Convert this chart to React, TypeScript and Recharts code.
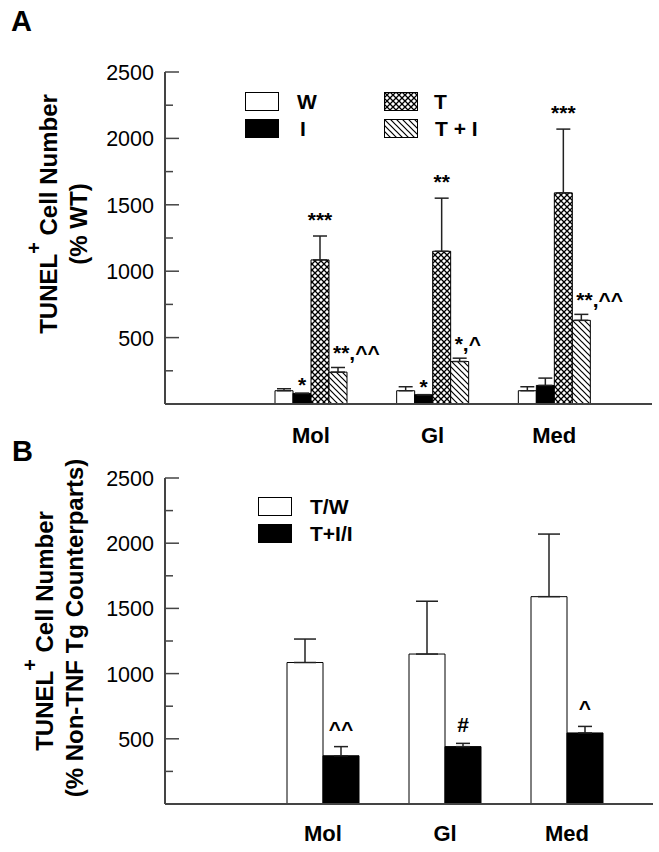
import { Bar, BarChart, ErrorBar, LabelList, XAxis, YAxis } from "recharts";

const regions = ["Mol", "Gl", "Med"];

// panel A, % WT
const wMean = [100, 100, 100];
const wErr = [15, 30, 30];
const iMean = [80, 70, 140];
const iErr = [0, 0, 55];
const tMean = [1085, 1150, 1590];
const tErr = [180, 400, 480];
const tiMean = [240, 320, 630];
const tiErr = [35, 25, 45];
const iMarks = ["*", "*", ""];
const tMarks = ["***", "**", "***"];
const tiMarks = ["**,^^", "*,^", "**,^^"];

// panel B, % non-TNF Tg counterparts
const twMean = [1085, 1150, 1590];
const twErr = [180, 405, 480];
const tiiMean = [370, 440, 545];
const tiiErr = [70, 25, 50];
const tiiMarks = ["^^", "#", "^"];

const yTicks = [0, 250, 500, 750, 1000, 1250, 1500, 1750, 2000, 2250, 2500];

const dataA = regions.map((r, i) => ({
  region: r,
  W: wMean[i],
  Werr: [0, wErr[i]],
  I: iMean[i],
  Ierr: [0, iErr[i]],
  T: tMean[i],
  Terr: [0, tErr[i]],
  TI: tiMean[i],
  TIerr: [0, tiErr[i]],
}));

const dataB = regions.map((r, i) => ({
  region: r,
  TW: twMean[i],
  TWerr: [0, twErr[i]],
  TII: tiiMean[i],
  TIIerr: [0, tiiErr[i]],
}));

const FONT = "'Liberation Sans', Arial, sans-serif";
const AXIS = "#444";

function YTick(props: any) {
  const { x, y, payload } = props;
  const v = payload.value;
  if (v === 0) return null;
  const major = v % 500 === 0;
  const ax = x + 11;
  return (
    <g>
      <line x1={ax} x2={ax + (major ? 14 : 8)} y1={y} y2={y} stroke={AXIS} strokeWidth={1.5} />
      {major && (
        <text x={x} y={y} dy={8} textAnchor="end" fontSize={21.5} fontFamily={FONT} fill="#000">
          {v}
        </text>
      )}
    </g>
  );
}

function markLabel(marks: string[], errs: number[], gap: number) {
  return (props: any) => {
    const { x, y, width, height, value, index } = props;
    const text = marks[index];
    if (!text) return null;
    const errPx = value ? (errs[index] * height) / value : 0;
    const split = text.includes(",");
    return (
      <text
        x={split ? x + 4 : x + width / 2}
        y={y - errPx - gap}
        textAnchor={split ? "start" : "middle"}
        fontSize={21}
        fontWeight="bold"
        fontFamily={FONT}
        fill="#000"
      >
        {text}
      </text>
    );
  };
}

function Swatch({ fill }: { fill: string }) {
  return (
    <svg width={35} height={20} style={{ display: "block" }}>
      <rect x={0.5} y={0.5} width={33} height={18} fill={fill} stroke="#000" strokeWidth={1} />
    </svg>
  );
}

const legendText: React.CSSProperties = {
  fontFamily: FONT,
  fontWeight: "bold",
  fontSize: 21,
  lineHeight: "20px",
};

function LegendA() {
  const items = [
    { fill: "#fff", name: "W", left: 245, top: 92, gap: 17 },
    { fill: "#000", name: "I", left: 245, top: 119, gap: 20 },
    { fill: "url(#cross)", name: "T", left: 384, top: 92, gap: 15 },
    { fill: "url(#hatch)", name: "T + I", left: 384, top: 119, gap: 16 },
  ];
  return (
    <div>
      {items.map((it) => (
        <div key={it.name} style={{ position: "absolute", left: it.left, top: it.top, display: "flex", alignItems: "center" }}>
          <Swatch fill={it.fill} />
          <span style={{ ...legendText, marginLeft: it.gap }}>{it.name}</span>
        </div>
      ))}
    </div>
  );
}

function LegendB() {
  const items = [
    { fill: "#fff", name: "T/W", top: 497 },
    { fill: "#000", name: "T+I/I", top: 524 },
  ];
  return (
    <div>
      {items.map((it) => (
        <div key={it.name} style={{ position: "absolute", left: 258, top: it.top, display: "flex", alignItems: "center" }}>
          <Swatch fill={it.fill} />
          <span style={{ ...legendText, marginLeft: 17 }}>{it.name}</span>
        </div>
      ))}
    </div>
  );
}

function YTitle({ cx, cy1, cy2, line2 }: { cx: number; cy1: number; cy2: number; line2: string }) {
  const b1 = cx;
  const b2 = cx + 30;
  return (
    <g fontFamily={FONT} fontWeight="bold" fontSize={24} fill="#000">
      <text x={b1} y={cy1} transform={`rotate(-90, ${b1}, ${cy1})`} textAnchor="middle">
        TUNEL
        <tspan fontSize={20} dy={-16}>+</tspan>
        <tspan dy={16}> Cell Number</tspan>
      </text>
      <text x={b2} y={cy2} transform={`rotate(-90, ${b2}, ${cy2})`} textAnchor="middle">
        {line2}
      </text>
    </g>
  );
}

const panelLetter: React.CSSProperties = {
  position: "absolute",
  fontFamily: FONT,
  fontWeight: "bold",
  fontSize: 29,
  lineHeight: "29px",
};

const catTick = { fontSize: 22, fontWeight: "bold", fontFamily: FONT, fill: "#000" };

export default function App() {
  return (
    <div style={{ position: "absolute", left: 0, top: 0, width: 659, height: 852, background: "#fff" }}>
      <svg width={0} height={0} style={{ position: "absolute" }}>
        <defs>
          <pattern id="cross" patternUnits="userSpaceOnUse" width={6} height={6}>
            <rect width={6} height={6} fill="#fff" />
            <path d="M0,0 L6,6 M6,0 L0,6" stroke="#000" strokeWidth={1.3} />
          </pattern>
          <pattern id="hatch" patternUnits="userSpaceOnUse" width={6} height={6}>
            <rect width={6} height={6} fill="#fff" />
            <path d="M-1,-1 L7,7 M-4,2 L2,8 M4,-2 L8,2" stroke="#000" strokeWidth={1.2} />
          </pattern>
        </defs>
      </svg>

      <div style={{ position: "absolute", left: 0, top: 0 }}>
        <BarChart
          width={659}
          height={460}
          data={dataA}
          margin={{ top: 72, right: 7, bottom: 16, left: 105 }}
          barGap={0}
          barSize={18}
        >
          <XAxis
            dataKey="region"
            axisLine={{ stroke: AXIS, strokeWidth: 2 }}
            tickLine={false}
            tickSize={0}
            tickMargin={23}
            height={40}
            padding={{ left: 85, right: 37 }}
            tick={catTick}
          />
          <YAxis
            type="number"
            domain={[0, 2500]}
            ticks={yTicks}
            interval={0}
            width={60}
            axisLine={{ stroke: AXIS, strokeWidth: 2 }}
            tickLine={false}
            tickSize={0}
            tickMargin={11}
            tick={<YTick />}
            label={{ content: () => <YTitle cx={57} cy1={214} cy2={224} line2="(% WT)" /> }}
          />
          <Bar dataKey="W" fill="#fff" stroke="#000" strokeWidth={1} isAnimationActive={false}>
            <ErrorBar dataKey="Werr" direction="y" width={7} stroke="#222" strokeWidth={1.5} />
          </Bar>
          <Bar dataKey="I" fill="#000" stroke="#000" strokeWidth={1} isAnimationActive={false}>
            <ErrorBar dataKey="Ierr" direction="y" width={7} stroke="#222" strokeWidth={1.5} />
            <LabelList dataKey="I" content={markLabel(iMarks, iErr, 1)} />
          </Bar>
          <Bar dataKey="T" fill="url(#cross)" stroke="#000" strokeWidth={1} isAnimationActive={false}>
            <ErrorBar dataKey="Terr" direction="y" width={7} stroke="#222" strokeWidth={1.5} />
            <LabelList dataKey="T" content={markLabel(tMarks, tErr, 9)} />
          </Bar>
          <Bar dataKey="TI" fill="url(#hatch)" stroke="#000" strokeWidth={1} isAnimationActive={false}>
            <ErrorBar dataKey="TIerr" direction="y" width={7} stroke="#222" strokeWidth={1.5} />
            <LabelList dataKey="TI" content={markLabel(tiMarks, tiErr, 7)} />
          </Bar>
        </BarChart>
      </div>

      <div style={{ position: "absolute", left: 0, top: 450 }}>
        <BarChart
          width={659}
          height={402}
          data={dataB}
          margin={{ top: 28, right: 6, bottom: 8, left: 105 }}
          barGap={0}
          barSize={36}
        >
          <XAxis
            dataKey="region"
            axisLine={{ stroke: AXIS, strokeWidth: 2 }}
            tickLine={false}
            tickSize={0}
            tickMargin={21}
            height={40}
            padding={{ left: 97, right: 25 }}
            tick={catTick}
          />
          <YAxis
            type="number"
            domain={[0, 2500]}
            ticks={yTicks}
            interval={0}
            width={60}
            axisLine={{ stroke: AXIS, strokeWidth: 2 }}
            tickLine={false}
            tickSize={0}
            tickMargin={11}
            tick={<YTick />}
            label={{
              content: () => (
                <YTitle cx={53} cy1={181} cy2={178} line2="(% Non-TNF Tg Counterparts)" />
              ),
            }}
          />
          <Bar dataKey="TW" fill="#fff" stroke="#000" strokeWidth={1} isAnimationActive={false}>
            <ErrorBar dataKey="TWerr" direction="y" width={11} stroke="#222" strokeWidth={1.5} />
          </Bar>
          <Bar dataKey="TII" fill="#000" stroke="#000" strokeWidth={1} isAnimationActive={false}>
            <ErrorBar dataKey="TIIerr" direction="y" width={7} stroke="#222" strokeWidth={1.5} />
            <LabelList dataKey="TII" content={markLabel(tiiMarks, tiiErr, 11)} />
          </Bar>
        </BarChart>
      </div>

      <LegendA />
      <LegendB />
      <div style={{ ...panelLetter, left: 11, top: 7 }}>A</div>
      <div style={{ ...panelLetter, left: 12, top: 437 }}>B</div>
    </div>
  );
}
